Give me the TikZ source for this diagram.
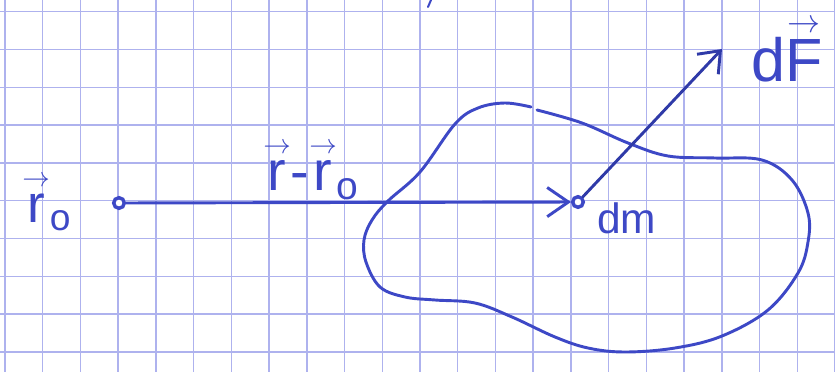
\documentclass[tikz,border=0pt]{standalone}
\usepackage{fontspec}
\usepackage{amsmath}
\setmainfont{Liberation Sans}
\usetikzlibrary{arrows.meta}
\definecolor{gridblue}{HTML}{AEB2EE}
\definecolor{inkblue}{HTML}{3D48C6}
\definecolor{inkdark}{HTML}{2F3AA8}
\newcommand{\hvec}[1]{\overset{\scriptscriptstyle\rightarrow}{#1}}

\begin{document}
\begin{tikzpicture}[x=0.02649cm, y=-0.02649cm,
  gridline/.style={gridblue, line width=1.1pt},
  pen/.style={inkblue, line width=2.2pt, line cap=round, line join=round},
  arr/.style={pen, -{Straight Barb[length=16pt, width=22pt]}},
  dot/.style={circle, draw=inkblue, line width=2.6pt, fill=white,
              inner sep=0pt, minimum size=8pt},
  lbl/.style={text=inkblue, inner sep=0pt, anchor=base west},
]
  \useasboundingbox (0,0) rectangle (835,372);
  \clip (0,0) rectangle (835,372);
  \fill[white] (0,0) rectangle (835,372);

  % squared paper
  \foreach \i in {0,...,22} \draw[gridline] ({5+37.73*\i},0) -- ++(0,372);
  \foreach \j in {0,...,9} \draw[gridline] (0,{11.7+37.8*\j}) -- ++(835,0);

  % the body
  \draw[pen] plot[smooth, tension=0.6] coordinates {(537,110) (582,123)
    (628,143) (668,156) (715,158) (762,160) (792,180) (808,213) (808,242)
    (798,273) (768,310) (722,336) (675,348) (625,352) (588,348) (555,337)
    (512,317) (475,303) (435,300) (405,297) (380,287) (366,262) (364,240)
    (372,220) (388,201) (420,172) (455,124) (478,108) (505,103) (531,107)};
  \draw[pen, line width=1.5pt] (431,0) -- (428,7);

  \node[dot] (r0) at (119,203) {};
  \node[dot] (dm) at (578,202) {};
  \coordinate (tip) at (722,49);

  \draw[arr] (r0) -- (dm);
  \draw[arr, inkdark, -{Straight Barb[length=14pt, width=22pt]}] (dm) -- (tip);

  \node[lbl, font=\fontsize{40}{40}\selectfont] (r0lbl) at (22,222)
    {$\hvec{\text{r}}_{\text{o}}$};
  \node[lbl, font=\fontsize{42}{42}\selectfont] (difflbl) at (263,190)
    {$\hvec{\text{r}}\text{-}\hvec{\text{r}}_{\text{o}}$};
  \node[lbl, font=\fontsize{32}{32}\selectfont] (dmlbl) at (597,233) {dm};
  \node[lbl, font=\fontsize{46}{46}\selectfont] (dFlbl) at (751,81)
    {d$\hvec{\text{F}}$};
\end{tikzpicture}
\end{document}
